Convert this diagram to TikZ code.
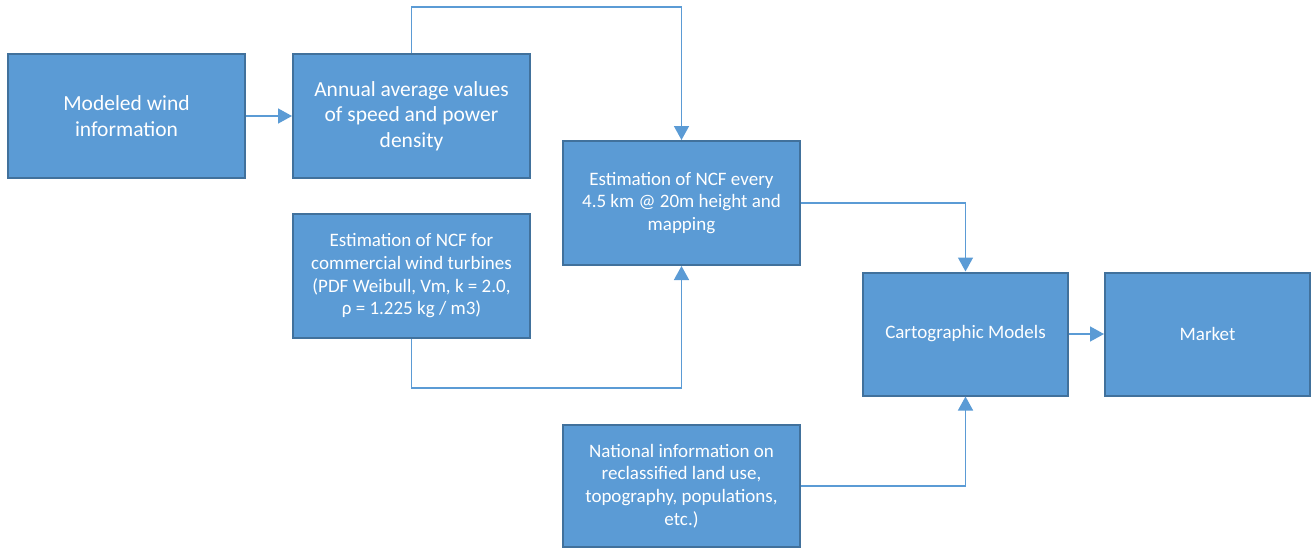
\documentclass[tikz,border=0pt]{standalone}
\usepackage{fontspec}
\setmainfont{Carlito}
\usetikzlibrary{arrows.meta}
\definecolor{boxfill}{HTML}{5B9BD5}
\definecolor{boxline}{HTML}{41719C}
\definecolor{conn}{HTML}{5B9BD5}
\tikzset{
  blk/.style={draw=boxline, fill=boxfill, line width=2pt, inner sep=0pt, align=center, text=white},
  bigtxt/.style={font=\fontsize{21.5}{25.5}\selectfont},
  smalltxt/.style={font=\fontsize{19}{22.7}\selectfont},
  link/.style={draw=conn, line width=1.5pt, -{Triangle[width=15pt,length=14pt]}}
}
\begin{document}
\begin{tikzpicture}[x=1pt,y=-1pt]
\useasboundingbox (0,0) rectangle (1314,547);
\node[blk, bigtxt, minimum width=237pt, minimum height=124pt] (m) at (126.5,116) {Modeled wind\\information};
\node[blk, bigtxt, minimum width=237pt, minimum height=124pt] (a) at (411.5,116) {Annual average values\\of speed and power\\density};
\node[blk, smalltxt, minimum width=237pt, minimum height=124pt] (c) at (411.5,276) {Estimation of NCF for\\commercial wind turbines\\(PDF Weibull, Vm, k = 2.0,\\ρ = 1.225 kg / m3)};
\node[blk, smalltxt, minimum width=237pt, minimum height=124pt] (e) at (681.5,203) {Estimation of NCF every\\4.5 km @ 20m height and\\mapping};
\node[blk, smalltxt, minimum width=205pt, minimum height=123pt] (g) at (965.5,334) {Cartographic Models};
\node[blk, smalltxt, minimum width=205pt, minimum height=123pt] (k) at (1207.5,334) {Market};
\node[blk, smalltxt, minimum width=237pt, minimum height=122pt] (n) at (681.5,486) {National information on\\reclassified land use,\\topography, populations,\\etc.)};
\coordinate (t1) at (411.5,7);
\coordinate (t2) at (681.5,7);
\coordinate (b1) at (411.5,388);
\coordinate (b2) at (681.5,388);
\draw[link] (m.east) -- (a.west);
\draw[link] (a.north) -- (t1) -- (t2) -- (e.north);
\draw[link] (c.south) -- (b1) -- (b2) -- (e.south);
\draw[link] (e.east) -| (g.north);
\draw[link] (g.east) -- (k.west);
\draw[link] (n.east) -| (g.south);
\end{tikzpicture}
\end{document}
